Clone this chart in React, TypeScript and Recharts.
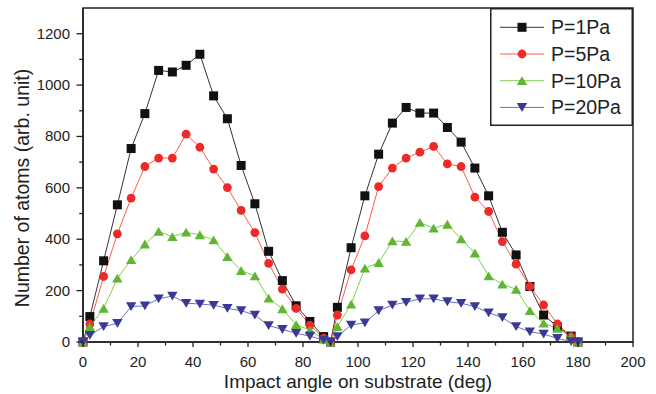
import React from 'react';
import { LineChart, Line, XAxis, YAxis, ReferenceArea, Legend } from 'recharts';

const angles = [0, 2.5, 7.5, 12.5, 17.5, 22.5, 27.5, 32.5, 37.5, 42.5, 47.5, 52.5, 57.5, 62.5, 67.5, 72.5, 77.5, 82.5, 87.5, 90,
  92.5, 97.5, 102.5, 107.5, 112.5, 117.5, 122.5, 127.5, 132.5, 137.5, 142.5, 147.5, 152.5, 157.5, 162.5, 167.5, 172.5, 177.5, 180];

const p1 = [0, 99, 316, 534, 753, 889, 1057, 1051, 1077, 1120, 958, 869, 687, 538, 353, 239, 141, 80, 21, 0,
  135, 367, 569, 731, 852, 913, 891, 891, 835, 778, 677, 569, 427, 339, 216, 105, 60, 23, 0];
const p5 = [0, 70, 255, 421, 560, 683, 716, 716, 809, 758, 673, 601, 512, 426, 306, 206, 131, 66, 15, 0,
  105, 281, 413, 605, 677, 716, 739, 761, 693, 683, 564, 508, 391, 303, 216, 144, 70, 21, 2];
const p10 = [0, 60, 131, 248, 320, 381, 430, 410, 427, 417, 397, 332, 278, 257, 170, 129, 67, 47, 10, 0,
  60, 147, 287, 309, 393, 391, 465, 443, 458, 401, 346, 257, 225, 205, 122, 73, 53, 21, 0];
const p20 = [0, 26, 60, 73, 138, 141, 168, 179, 151, 148, 143, 131, 122, 105, 64, 49, 34, 23, 8, 0,
  21, 66, 75, 122, 144, 155, 168, 168, 157, 151, 138, 114, 95, 60, 40, 31, 14, 2, 0];

const seriesNames = ['P=1Pa', 'P=5Pa', 'P=10Pa', 'P=20Pa'];
const xTicks = [0, 10, 20, 30, 40, 50, 60, 70, 80, 90, 100, 110, 120, 130, 140, 150, 160, 170, 180, 190, 200];
const yTicks = [0, 100, 200, 300, 400, 500, 600, 700, 800, 900, 1000, 1100, 1200, 1300];

const data = angles.map((a, i) => ({ angle: a, p1: p1[i], p5: p5[i], p10: p10[i], p20: p20[i] }));

const FONT = '"Liberation Sans", Arial, Helvetica, sans-serif';
const AX = '#222';

type Shape = 'square' | 'circle' | 'up' | 'down';

const drawMarker = (shape: Shape, cx: number, cy: number, fill: string, key?: string) => {
  if (shape === 'square') return <rect key={key} x={cx - 4.5} y={cy - 4.5} width={9} height={9} fill={fill} />;
  if (shape === 'circle') return <circle key={key} cx={cx} cy={cy} r={4.4} fill={fill} />;
  if (shape === 'up')
    return <polygon key={key} points={`${cx - 5.2},${cy + 4.3} ${cx + 5.2},${cy + 4.3} ${cx},${cy - 4.5}`} fill={fill} />;
  return <polygon key={key} points={`${cx - 5.2},${cy - 4.3} ${cx + 5.2},${cy - 4.3} ${cx},${cy + 4.5}`} fill={fill} />;
};

const series = [
  { key: 'p1', name: seriesNames[0], line: '#333333', fill: '#111111', shape: 'square' as Shape },
  { key: 'p5', name: seriesNames[1], line: '#ff5a45', fill: '#ec2a2a', shape: 'circle' as Shape },
  { key: 'p10', name: seriesNames[2], line: '#80cc55', fill: '#62b532', shape: 'up' as Shape },
  { key: 'p20', name: seriesNames[3], line: '#7070c0', fill: '#3a3a96', shape: 'down' as Shape },
];

const makeDot = (shape: Shape, fill: string) => (props: any) => {
  const { cx, cy, index } = props;
  if (cx == null || cy == null) return <g key={`e${index}`} />;
  return drawMarker(shape, cx, cy, fill, `d${index}`);
};

const XTick = (props: any) => {
  const { x, y, payload } = props;
  const v = payload.value;
  const major = v % 20 === 0;
  return (
    <g>
      <line x1={x} x2={x} y1={y} y2={y + (major ? 5 : 3.5)} stroke={AX} strokeWidth={1.3} />
      {major && (
        <text x={x} y={y + 24.5} textAnchor="middle" fontSize={15} fill={AX} fontFamily={FONT}>
          {v}
        </text>
      )}
    </g>
  );
};

const YTick = (props: any) => {
  const { x, y, payload } = props;
  const v = payload.value;
  const major = v % 200 === 0;
  if (v > 1200) return <g />;
  return (
    <g>
      <line x1={x - (major ? 6.5 : 3.8)} x2={x} y1={y} y2={y} stroke={AX} strokeWidth={1.3} />
      {major && (
        <text x={x - 13} y={y + 5} textAnchor="end" fontSize={15} fill={AX} fontFamily={FONT}>
          {v}
        </text>
      )}
    </g>
  );
};

const XTitle = (props: any) => {
  const vb = props.viewBox || { x: 83, y: 342, width: 550, height: 52 };
  return (
    <text x={vb.x + vb.width / 2} y={vb.y + 46} textAnchor="middle" fontSize={19} fill={AX} fontFamily={FONT}>
      Impact angle on substrate (deg)
    </text>
  );
};

const YTitle = () => (
  <text x={29} y={188} transform="rotate(-90, 29, 188)" textAnchor="middle" fontSize={19.5} fill={AX} fontFamily={FONT}>
    Number of atoms (arb. unit)
  </text>
);

const LegendBox = () => (
  <svg width={143} height={118} style={{ display: 'block' }}>
    <rect x={0.75} y={0.75} width={141.5} height={116.5} fill="#fff" stroke={AX} strokeWidth={1.5} />
    {series.map((s, i) => {
      const cy = 19.3 + i * 26.7;
      return (
        <g key={s.key}>
          <line x1={10} x2={54} y1={cy} y2={cy} stroke={s.line} strokeWidth={1} />
          {drawMarker(s.shape, 32, cy, s.fill)}
          <text x={61} y={cy + 7} fontSize={19.5} fill={AX} fontFamily={FONT}>
            {s.name}
          </text>
        </g>
      );
    })}
  </svg>
);

export default function App() {
  return (
    <div style={{ position: 'absolute', left: 0, top: 0, background: '#fff' }}>
      <LineChart width={656} height={394} data={data} margin={{ top: 8, right: 23, bottom: 0, left: 0 }}>
        <XAxis
          dataKey="angle"
          type="number"
          domain={[0, 200]}
          ticks={xTicks}
          interval={0}
          height={52}
          tickSize={0}
          tickMargin={0}
          tickLine={false}
          tick={<XTick />}
          axisLine={{ stroke: AX, strokeWidth: 1.5 }}
          label={<XTitle />}
        />
        <YAxis
          type="number"
          domain={[0, 1300]}
          ticks={yTicks}
          interval={0}
          width={83}
          tickSize={0}
          tickMargin={0}
          tickLine={false}
          tick={<YTick />}
          axisLine={{ stroke: AX, strokeWidth: 1.5 }}
          label={<YTitle />}
        />
        <ReferenceArea x1={0} x2={200} y1={0} y2={1300} fill="none" stroke={AX} strokeWidth={1.5} strokeOpacity={1} fillOpacity={0} />
        {series.map((s) => (
          <Line
            key={s.key}
            dataKey={s.key}
            name={s.name}
            stroke={s.line}
            strokeWidth={1}
            dot={makeDot(s.shape, s.fill)}
            activeDot={false}
            isAnimationActive={false}
          />
        ))}
        <Legend
          layout="vertical"
          align="center"
          verticalAlign="middle"
          wrapperStyle={{ position: 'absolute', left: 490, top: 8, width: 143, height: 118 }}
          content={() => <LegendBox />}
        />
      </LineChart>
    </div>
  );
}
